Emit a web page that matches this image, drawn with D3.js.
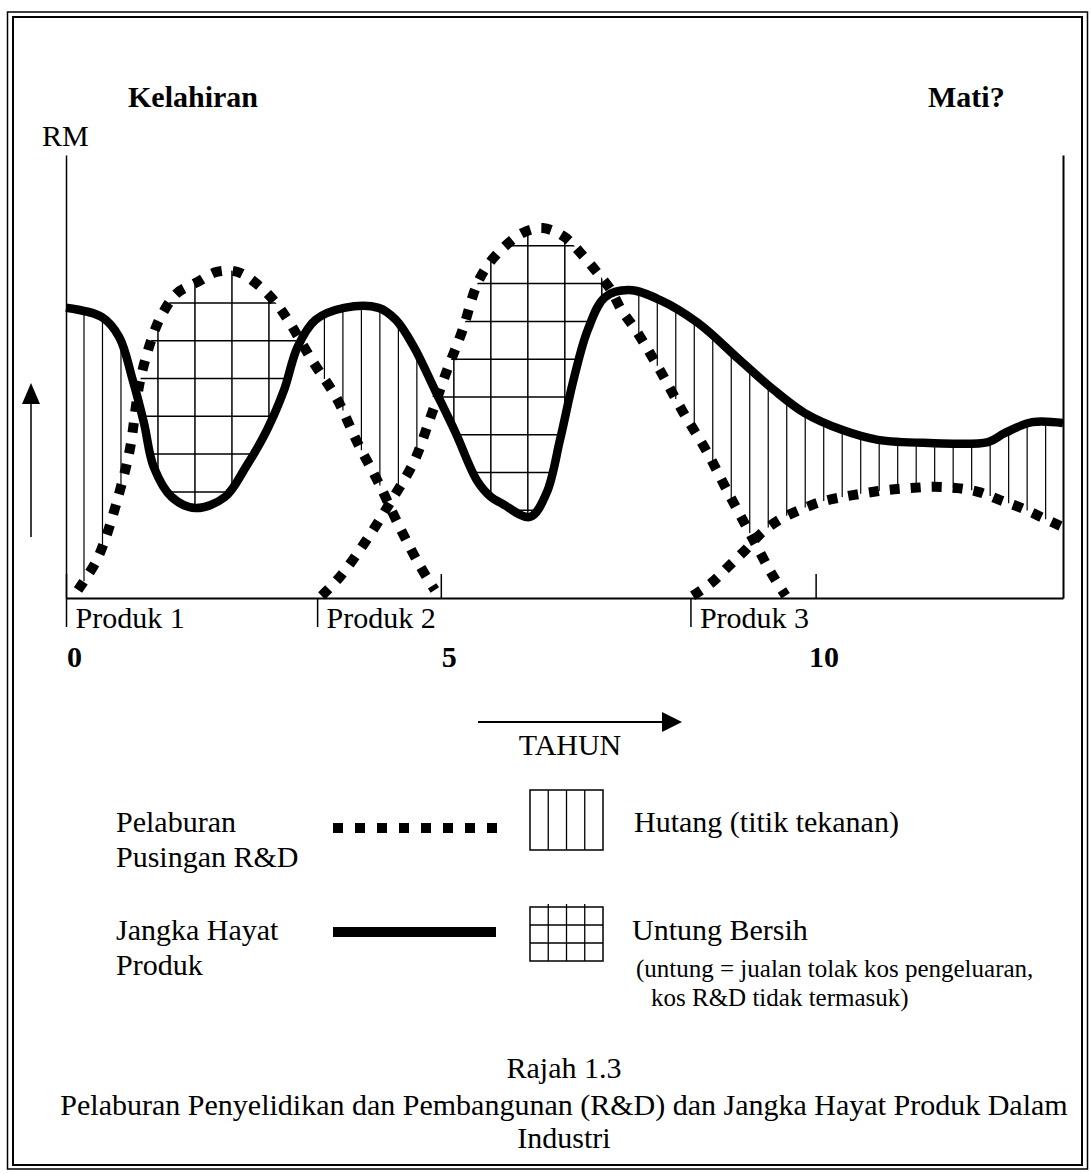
<!DOCTYPE html>
<html><head><meta charset="utf-8">
<script src="https://cdn.jsdelivr.net/npm/d3@7"></script>
<style>
html,body{margin:0;padding:0;background:#fff;}
svg{display:block;}
text{font-family:"Liberation Serif","Times New Roman",Times,serif;fill:#000;}
</style></head><body>
<svg id="c" width="1091" height="1174"></svg>
<script>
// ---------- DATA (years, RM index 0-100) ----------
const lifeCycle = [[0,65.5],[0.48,63.4],[0.71,58.9],[0.89,49.2],[1.04,39.5],[1.17,29.6],[1.41,22.8],[1.73,20.3],[2.12,22.8],[2.40,29.6],[2.68,37.9],[2.91,47.0],[3.09,56.7],[3.33,62.8],[3.71,65.5],[4.17,65.5],[4.40,62.8],[4.64,56.7],[4.92,47.0],[5.20,37.2],[5.48,26.6],[5.67,22.8],[5.81,21.4],[6.19,18.3],[6.41,23.7],[6.59,35.7],[6.77,49.2],[6.96,60.5],[7.19,67.9],[7.51,69.5],[7.92,67.3],[8.43,62.1],[8.99,53.7],[9.44,47.0],[9.85,41.8],[10.36,37.9],[10.83,35.7],[11.51,35.0],[12.30,35.2],[12.52,37.2],[12.89,39.7],[13.30,39.5]];
const rdCycle1 = [[0.16,1.8],[0.39,7.9],[0.52,13.1],[0.71,23.7],[0.85,33.4],[0.99,49.2],[1.17,59.8],[1.29,64.3],[1.48,68.8],[1.75,71.3],[2.01,73.6],[2.29,73.6],[2.56,70.7],[2.79,66.8],[2.96,62.8],[3.28,53.7],[3.61,45.1],[3.89,35.0],[4.17,26.0],[4.45,16.0],[4.73,7.0],[4.92,1.8]];
const rdCycle2 = [[3.41,0.5],[3.65,4.7],[3.99,12.6],[4.33,21.7],[4.64,30.7],[4.85,40.2],[5.07,50.8],[5.29,60.5],[5.48,70.7],[5.63,75.2],[5.83,79.0],[6.09,82.4],[6.36,83.5],[6.65,81.5],[6.89,77.4],[7.09,73.4],[7.27,69.5],[7.41,65.0],[7.60,60.5],[7.92,51.5],[8.23,42.0],[8.55,33.0],[8.83,23.9],[9.12,14.7],[9.41,5.6],[9.60,0.5]];
const rdCycle3 = [[8.36,0.5],[8.61,3.4],[8.83,7.0],[9.06,10.8],[9.28,14.7],[9.51,17.6],[9.79,19.9],[10.07,21.7],[10.36,22.8],[10.67,23.7],[10.96,24.4],[11.26,24.8],[11.58,25.1],[11.89,24.8],[12.18,23.9],[12.46,22.1],[12.75,20.3],[13.03,18.1],[13.30,16.0]];
const yearTicks = [0, 5, 10];
const productLaunch = [0, 3.35, 8.33];
const productLabels = ["Produk 1", "Produk 2", "Produk 3"];
const profitRowTop = [66.6, 79.5, 25.0];   // first grid row (value) for each R&D cycle's profit area
const legendLeft = [["Pelaburan", "Pusingan R&D"], ["Jangka Hayat", "Produk"]];
const legendRight = ["Hutang (titik tekanan)", "Untung Bersih"];
const legendNote = ["(untung = jualan tolak kos pengeluaran,", "kos R&D tidak termasuk)"];
const captionLines = ["Rajah 1.3", "Pelaburan Penyelidikan dan Pembangunan (R&D) dan Jangka Hayat Produk Dalam", "Industri"];

// ---------- STYLE CONSTANTS ----------
const X_MAX = 13.3, HATCH_START = 0.24, HATCH_STEP = 0.2467, ROW_STEP = 8.53;
const FS = 30;

const svg = d3.select("#c");
const x = d3.scaleLinear().domain([0, X_MAX]).range([66, 1063]);
const y = d3.scaleLinear().domain([0, 100]).range([598, 155]);
const curve = d3.curveCatmullRom.alpha(0.5);
const line = d3.line().x(d => x(d[0])).y(d => y(d[1])).curve(curve);
const areaBelow = d3.area().x(d => x(d[0])).y0(y(0)).y1(d => y(d[1])).curve(curve);
const areaAbove = d3.area().x(d => x(d[0])).y0(y(100)).y1(d => y(d[1])).curve(curve);

// frame
svg.append("rect").attr("x", 7.5).attr("y", 12).attr("width", 1080).attr("height", 1157)
  .attr("fill", "none").attr("stroke", "#000").attr("stroke-width", 1.5);
svg.append("rect").attr("x", 13).attr("y", 17).attr("width", 1069).attr("height", 1148)
  .attr("fill", "none").attr("stroke", "#000").attr("stroke-width", 2);

const defs = svg.append("defs");
defs.append("clipPath").attr("id", "aboveLife").append("path").attr("d", areaAbove(lifeCycle));
const rdCycles = [rdCycle1, rdCycle2, rdCycle3];
rdCycles.forEach((c, i) => {
  defs.append("clipPath").attr("id", "belowRd" + i).append("path").attr("d", areaBelow(c));
});

const gHatch = svg.append("g");
const gGrid = svg.append("g");
const gAxes = svg.append("g");
const gCurves = svg.append("g");

// curves
const rdPaths = rdCycles.map(c => gCurves.append("path").attr("d", line(c))
  .attr("fill", "none").attr("stroke", "#000").attr("stroke-width", 10)
  .attr("stroke-dasharray", "10 11").node());
const lifePath = gCurves.append("path").attr("d", line(lifeCycle))
  .attr("fill", "none").attr("stroke", "#000").attr("stroke-width", 8.5)
  .attr("stroke-linejoin", "round").node();

function sampler(node) {
  const L = node.getTotalLength(), pts = [];
  for (let s = 0; s <= L; s += 1) { const p = node.getPointAtLength(s); pts.push([p.x, p.y]); }
  const e = node.getPointAtLength(L); pts.push([e.x, e.y]);
  return function (px) {
    for (let i = 1; i < pts.length; i++) {
      const a = pts[i - 1], b = pts[i];
      if ((a[0] <= px && px <= b[0]) || (b[0] <= px && px <= a[0])) {
        const t = b[0] === a[0] ? 0 : (px - a[0]) / (b[0] - a[0]);
        return a[1] + t * (b[1] - a[1]);
      }
    }
    return null;
  };
}
const fLife = sampler(lifePath);
const fRd = rdPaths.map(sampler);

// debt hatching (vertical lines between life curve and R&D envelope)
for (let k = 0; ; k++) {
  const t = HATCH_START + k * HATCH_STEP;
  if (t > X_MAX) break;
  const px = x(t);
  const sy = fLife(px);
  if (sy == null) continue;
  let env = y(0);
  fRd.forEach(f => { const v = f(px); if (v != null && v < env) env = v; });
  if (env - sy > 25) {
    gHatch.append("line").attr("x1", px).attr("x2", px).attr("y1", sy).attr("y2", env)
      .attr("stroke", "#000").attr("stroke-width", 1.2);
  }
}

// profit grid (R&D curve above life curve)
rdCycles.forEach((c, i) => {
  const g = gGrid.append("g").attr("clip-path", `url(#belowRd${i})`)
    .append("g").attr("clip-path", "url(#aboveLife)");
  for (let k = 0; ; k += 2) {
    const t = HATCH_START + k * HATCH_STEP;
    if (t > X_MAX) break;
    g.append("line").attr("x1", x(t)).attr("x2", x(t)).attr("y1", y(100)).attr("y2", y(0))
      .attr("stroke", "#000").attr("stroke-width", 1.5);
  }
  for (let v = profitRowTop[i]; v > 0; v -= ROW_STEP) {
    g.append("line").attr("x1", x(0)).attr("x2", x(X_MAX)).attr("y1", y(v)).attr("y2", y(v))
      .attr("stroke", "#000").attr("stroke-width", 1.5);
  }
});

// axes
gAxes.append("g").attr("transform", `translate(${x(0)},0)`)
  .call(d3.axisLeft(y).tickValues([]).tickSizeOuter(0))
  .select(".domain").attr("stroke-width", 1.5);
gAxes.append("g").attr("transform", `translate(${x(X_MAX)},0)`)
  .call(d3.axisRight(y).tickValues([]).tickSizeOuter(0))
  .select(".domain").attr("stroke-width", 2);
const yearAxis = gAxes.append("g").attr("transform", `translate(0,${y(0)})`)
  .call(d3.axisBottom(x).tickValues(yearTicks).tickSizeInner(-24).tickSizeOuter(0).tickPadding(48).tickFormat(d3.format("d")));
yearAxis.select(".domain").attr("stroke-width", 2);
yearAxis.selectAll(".tick line").attr("stroke-width", 1.5);
yearAxis.selectAll(".tick text").attr("font-size", FS).attr("font-weight", "bold")
  .attr("font-family", "'Liberation Serif','Times New Roman',serif").attr("dx", 8);
const prodAxis = gAxes.append("g").attr("transform", `translate(0,${y(0)})`)
  .call(d3.axisBottom(x).tickValues(productLaunch).tickSizeInner(29).tickSizeOuter(0).tickPadding(-20)
    .tickFormat((d, i) => productLabels[i]));
prodAxis.select(".domain").remove();
prodAxis.selectAll(".tick line").attr("stroke-width", 1.5);
prodAxis.selectAll(".tick text").attr("font-size", FS).attr("text-anchor", "start").attr("x", 9)
  .attr("font-family", "'Liberation Serif','Times New Roman',serif");

// headings
svg.append("text").attr("x", 128).attr("y", 107).attr("font-size", FS).attr("font-weight", "bold").text("Kelahiran");
svg.append("text").attr("x", 928).attr("y", 107).attr("font-size", FS).attr("font-weight", "bold").text("Mati?");
svg.append("text").attr("x", 42).attr("y", 146).attr("font-size", FS).text("RM");

// vertical arrow
svg.append("line").attr("x1", 31).attr("x2", 31).attr("y1", 537).attr("y2", 400).attr("stroke", "#000").attr("stroke-width", 1.5);
svg.append("path").attr("d", "M31,383L22,404L40,404Z").attr("fill", "#000");

// TAHUN arrow
svg.append("line").attr("x1", 478).attr("x2", 666).attr("y1", 722).attr("y2", 722).attr("stroke", "#000").attr("stroke-width", 2);
svg.append("path").attr("d", "M682,722L662,712L662,732Z").attr("fill", "#000");
svg.append("text").attr("x", 570).attr("y", 755).attr("font-size", FS).attr("text-anchor", "middle").text("TAHUN");

// legend
const leg = svg.append("g");
legendLeft.forEach((lines, i) => {
  const base = i === 0 ? 832 : 940;
  lines.forEach((s, j) => leg.append("text").attr("x", 116).attr("y", base + j * 35).attr("font-size", FS).text(s));
});
leg.append("line").attr("x1", 333).attr("x2", 497).attr("y1", 828).attr("y2", 828)
  .attr("stroke", "#000").attr("stroke-width", 10).attr("stroke-dasharray", "10 12");
leg.append("line").attr("x1", 333).attr("x2", 496).attr("y1", 932).attr("y2", 932)
  .attr("stroke", "#000").attr("stroke-width", 10);
// box 1: vertical hatch
leg.append("rect").attr("x", 530).attr("y", 790).attr("width", 73).attr("height", 60)
  .attr("fill", "none").attr("stroke", "#000").attr("stroke-width", 1.5);
[1, 2, 3].forEach(k => leg.append("line").attr("x1", 530 + k * 18.25).attr("x2", 530 + k * 18.25)
  .attr("y1", 790).attr("y2", 850).attr("stroke", "#000").attr("stroke-width", 1.3));
// box 2: grid
leg.append("rect").attr("x", 530).attr("y", 907).attr("width", 73).attr("height", 54)
  .attr("fill", "none").attr("stroke", "#000").attr("stroke-width", 1.5);
[1, 2, 3].forEach(k => leg.append("line").attr("x1", 530 + k * 18.25).attr("x2", 530 + k * 18.25)
  .attr("y1", 904).attr("y2", 961).attr("stroke", "#000").attr("stroke-width", 1.3));
[1, 2].forEach(k => leg.append("line").attr("x1", 530).attr("x2", 603)
  .attr("y1", 907 + k * 18).attr("y2", 907 + k * 18).attr("stroke", "#000").attr("stroke-width", 1.3));
leg.append("text").attr("x", 634).attr("y", 832).attr("font-size", FS).text(legendRight[0]);
leg.append("text").attr("x", 632).attr("y", 940).attr("font-size", FS).text(legendRight[1]);
leg.append("text").attr("x", 636).attr("y", 977).attr("font-size", 25).text(legendNote[0]);
leg.append("text").attr("x", 651).attr("y", 1006).attr("font-size", 25).text(legendNote[1]);

// caption
[1078, 1115, 1148].forEach((yy, i) => svg.append("text").attr("x", 564).attr("y", yy)
  .attr("font-size", FS).attr("text-anchor", "middle").text(captionLines[i]));
</script>
</body></html>
